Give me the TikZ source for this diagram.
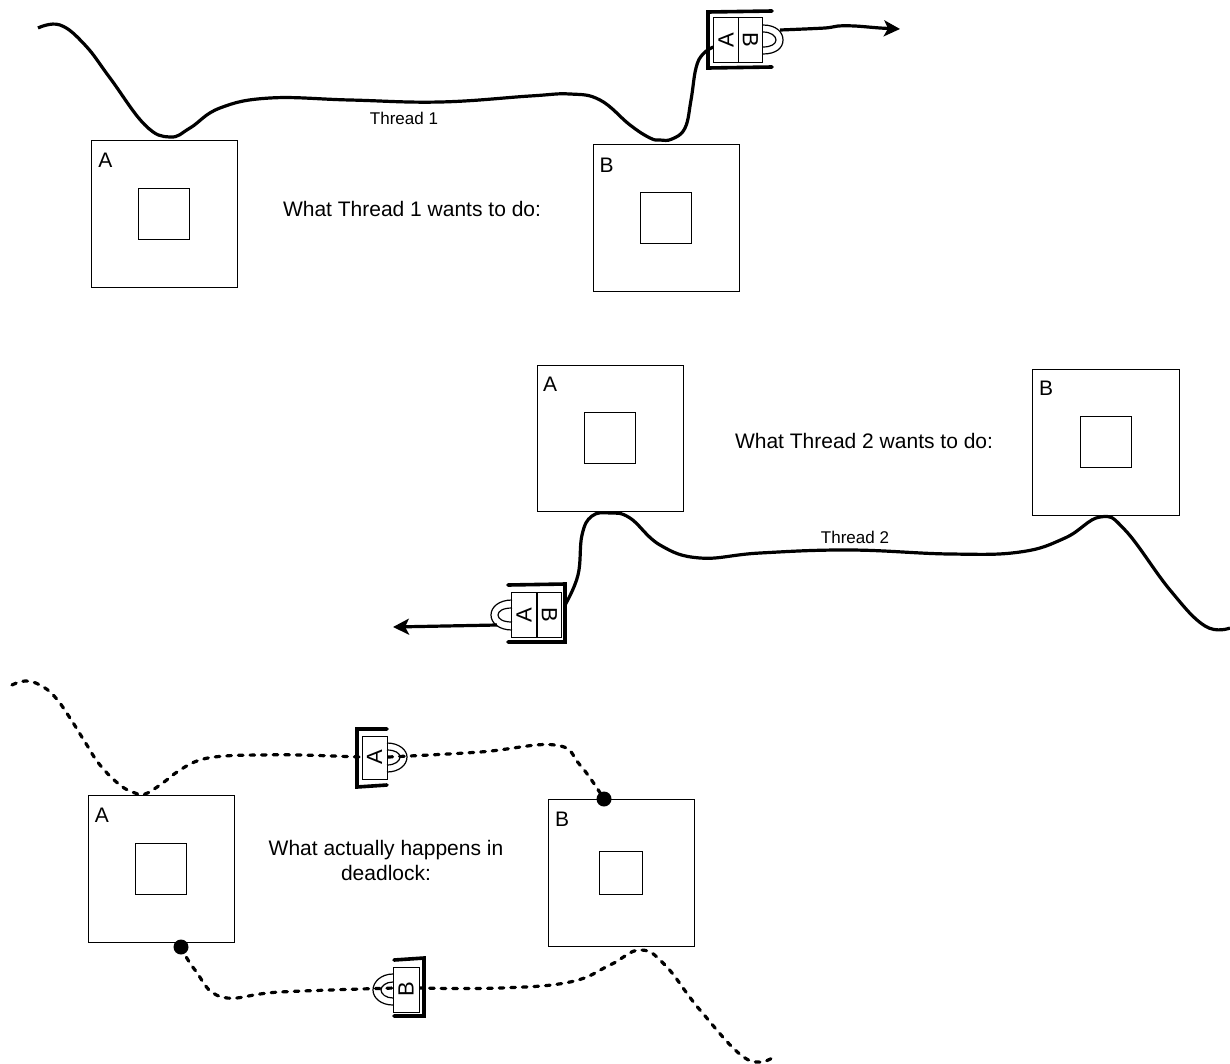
\documentclass[tikz,border=0pt]{standalone}
\usepackage{fontspec}
\setmainfont{Liberation Sans}
\usetikzlibrary{arrows.meta,positioning}

\begin{document}
\begin{tikzpicture}[x=1pt, y=-1pt, font=\fontsize{21}{25}\selectfont,
  outerbox/.style={draw, line width=1pt, minimum size=146.6pt, inner sep=0pt},
  innerbox/.style={draw, line width=1pt, minimum size=51pt, inner sep=0pt},
  lockcell/.style={draw, fill=white, line width=1pt, inner sep=0pt, rotate=90,
    minimum width=44.5pt, minimum height=24.5pt, font=\fontsize{22}{25}\selectfont},
  bracket/.style={line width=3.6pt, line cap=round},
  shackle/.style={line width=1.2pt},
  thread/.style={line width=3.2pt},
  waiting/.style={line width=3.2pt, line cap=round, dash pattern=on 4.6pt off 7pt},
  threadname/.style={font=\fontsize{17}{20}\selectfont, inner sep=0pt},
  heading/.style={align=center, inner sep=0pt},
  blocked/.style={circle, fill=black, inner sep=0pt, minimum size=15pt},
  bigtip/.style={-{Stealth[length=16pt, width=16pt, inset=4pt]}}]
  \useasboundingbox (0,0) rectangle (1230,1063);

  % what thread 1 wants
  \node[outerbox] (a1) at (164.3,213.8) {};
  \node[innerbox] (ai1) at (164.3,213.8) {};
  \node[outerbox] (b1) at (666.3,217.8) {};
  \node[innerbox] (bi1) at (666.3,217.8) {};
  \node[inner sep=0pt] (al1) at (105.5,160) {A};
  \node[inner sep=0pt] (bl1) at (606.5,165) {B};
  \node[heading] (h1) at (412,209) {What Thread 1 wants to do:};
  \node[threadname] (t1) at (404,118) {Thread 1};
  \node[lockcell] (la1) at (726,40) {A};
  \node[lockcell, rotate=180] (lb1) at (750.5,40) {B};
  \coordinate (s1) at (38,28);
  \coordinate (e1) at (900,29);
  \draw[thread] plot[smooth, tension=0.7] coordinates {(s1) (60,25) (85,45) (110,78)
    (145,125) (170,137) (190,128) (220,108) (270,98) (350,100) (440,102) (530,96)
    (570,94) (600,100) (630,125) (650,138) (660,140) (672,139) (685,128) (691,100)
    (696,68) (703,54) ([yshift=-7pt]la1.north)};
  \draw[thread, bigtip] plot[smooth, tension=0.5]
    coordinates {(780,30) (825,28) (838,26) (855,26) (880,28) (e1)};
  \draw[shackle] (763,25) .. controls (776,25) and (783,32) .. (783,40)
    .. controls (783,48) and (776,54) .. (763,54);
  \draw[shackle] (763,32) .. controls (771,32) and (776,36) .. (776,40)
    .. controls (776,44) and (771,47) .. (763,47);
  \draw[bracket] (772,11) -- (708,12) -- (708,68) -- (772,67);

  % what thread 2 wants
  \node[outerbox] (a2) at (610.3,438.3) {};
  \node[innerbox] (ai2) at (610.3,438.3) {};
  \node[outerbox] (b2) at (1105.8,442.3) {};
  \node[innerbox] (bi2) at (1105.8,442.3) {};
  \node[inner sep=0pt] (al2) at (550,384) {A};
  \node[inner sep=0pt] (bl2) at (1046,388) {B};
  \node[heading] (h2) at (864,441) {What Thread 2 wants to do:};
  \node[threadname] (t2) at (855,537) {Thread 2};
  \node[lockcell] (la2) at (524,615) {A};
  \node[lockcell, rotate=180] (lb2) at (549.5,615) {B};
  \coordinate (s2) at (1230,628);
  \coordinate (e2) at (393,627);
  \draw[thread] plot[smooth, tension=0.7] coordinates {(565,605) (578,575) (582,535)
    (592,516) (610,513) (630,518) (660,545) (700,558) (760,553) (850,550) (950,554)
    (1020,552) (1065,538) (1100,517) (1125,530) (1170,590) (1205,626) (s2)};
  \draw[thread, bigtip] (497,625) -- (e2);
  \draw[shackle] (512,600) .. controls (499,600) and (491,607) .. (491,615)
    .. controls (491,623) and (499,630) .. (512,630);
  \draw[shackle] (512,608) .. controls (503,608) and (498,611) .. (498,615)
    .. controls (498,619) and (503,622) .. (512,622);
  \draw[bracket] (508,585) -- (565,584) -- (565,642) -- (508,642);

  % what actually happens
  \node[outerbox] (a3) at (161.3,868.8) {};
  \node[innerbox] (ai3) at (161.3,869.3) {};
  \node[outerbox] (b3) at (621.3,872.8) {};
  \node[innerbox, minimum size=43pt] (bi3) at (621.3,873.3) {};
  \node[inner sep=0pt] (al3) at (102,815) {A};
  \node[inner sep=0pt] (bl3) at (562,819) {B};
  \node[heading] (h3) at (386,860) {What actually happens in\\deadlock:};
  \node[blocked] (d1) at (604,799) {};
  \node[blocked] (d2) at (181,947) {};
  \coordinate (s3) at (12,685);
  \coordinate (s4) at (772,1058);
  \draw[waiting] plot[smooth, tension=0.7] coordinates {(s3) (25,681) (40,685) (55,697)
    (70,718) (85,742) (100,765) (120,785) (135,793) (145,794) (160,785) (180,770)
    (200,760) (225,756) (260,755) (300,755) (360,757)};
  \draw[waiting] plot[smooth, tension=0.7] coordinates {(388,757) (480,752) (555,745)
    (580,765) (d1)};
  \draw[waiting] plot[smooth, tension=0.7] coordinates {(d2) (195,970) (222,997)
    (280,992) (394,988)};
  \draw[waiting] plot[smooth, tension=0.7] coordinates {(418,988) (500,988) (570,982)
    (610,965) (640,950) (665,965) (700,1010) (745,1058) (s4)};
  \node[lockcell, minimum height=25pt, minimum width=43pt] (la3) at (374.5,757.5) {A};
  \node[lockcell, minimum height=26pt, minimum width=45pt] (lb3) at (406,989.5) {B};
  \draw[shackle] (387,743) .. controls (399,743) and (407,750) .. (407,757)
    .. controls (407,765) and (399,772) .. (387,772);
  \draw[shackle] (387,750) .. controls (395,750) and (400,753) .. (400,757)
    .. controls (400,761) and (395,765) .. (387,765);
  \draw[bracket] (387,729) -- (357,729) -- (357,787) -- (387,785);
  \draw[shackle] (393,974) .. controls (381,974) and (373,982) .. (373,990)
    .. controls (373,998) and (381,1005) .. (393,1005);
  \draw[shackle] (393,982) .. controls (386,982) and (381,986) .. (381,990)
    .. controls (381,994) and (386,998) .. (393,998);
  \draw[bracket] (394,960) -- (424,958) -- (424,1016) -- (394,1016);
\end{tikzpicture}
\end{document}
